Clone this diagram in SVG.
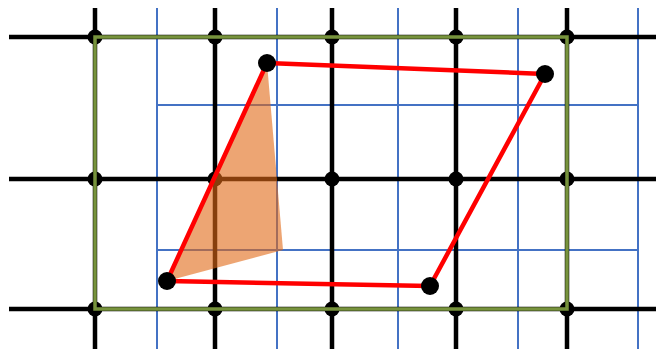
<svg xmlns="http://www.w3.org/2000/svg" width="656" height="349" viewBox="0 0 656 349">
<style>
.blk{stroke:#000;stroke-width:4.5;fill:none}
.blu{stroke:#4472c4;stroke-width:2;fill:none}
.grn{stroke:#77933c;stroke-width:3.5;fill:none}
.edge{stroke:#ff0000;stroke-width:4.5;fill:none;stroke-linecap:round}
.jd{fill:#000}
.vx{fill:#000}
</style>
<rect width="656" height="349" fill="#fff"/>
<g id="blue-grid" class="blu">
<line x1="157" y1="8" x2="157" y2="349"/>
<line x1="277" y1="8" x2="277" y2="349"/>
<line x1="398" y1="8" x2="398" y2="349"/>
<line x1="518" y1="8" x2="518" y2="349"/>
<line x1="638" y1="8" x2="638" y2="349"/>
<line x1="157" y1="105" x2="638" y2="105"/>
<line x1="157" y1="250" x2="638" y2="250"/>
</g>
<g id="black-grid" class="blk">
<line x1="95" y1="8" x2="95" y2="349"/>
<line x1="215" y1="8" x2="215" y2="349"/>
<line x1="332" y1="8" x2="332" y2="349"/>
<line x1="456" y1="8" x2="456" y2="349"/>
<line x1="567" y1="8" x2="567" y2="349"/>
<line x1="9" y1="37" x2="656" y2="37"/>
<line x1="9" y1="179" x2="656" y2="179"/>
<line x1="9" y1="309" x2="656" y2="309"/>
</g>
<g id="joints" class="jd">
<circle cx="95" cy="37" r="7.5"/><circle cx="215" cy="37" r="7.5"/><circle cx="332" cy="37" r="7.5"/><circle cx="456" cy="37" r="7.5"/><circle cx="567" cy="37" r="7.5"/>
<circle cx="95" cy="179" r="7.5"/><circle cx="215" cy="179" r="7.5"/><circle cx="332" cy="179" r="7.5"/><circle cx="456" cy="179" r="7.5"/><circle cx="567" cy="179" r="7.5"/>
<circle cx="95" cy="309" r="7.5"/><circle cx="215" cy="309" r="7.5"/><circle cx="332" cy="309" r="7.5"/><circle cx="456" cy="309" r="7.5"/><circle cx="567" cy="309" r="7.5"/>
</g>
<g id="green-frame">
<rect class="grn" x="95" y="37" width="472" height="272"/>
</g>
<g id="triangle">
<polygon points="267,63 283,250 167,281" fill="#e16916" fill-opacity="0.6"/>
</g>
<g id="connectors">
<line class="edge" x1="267" y1="63" x2="545" y2="74"/>
<line class="edge" x1="545" y1="74" x2="430" y2="286"/>
<line class="edge" x1="430" y1="286" x2="167" y2="281"/>
<line class="edge" x1="167" y1="281" x2="267" y2="63"/>
</g>
<g id="vertex-a"><circle class="vx" cx="267" cy="63" r="9"/></g>
<g id="vertex-b"><circle class="vx" cx="545" cy="74" r="9"/></g>
<g id="vertex-c"><circle class="vx" cx="430" cy="286" r="9"/></g>
<g id="vertex-d"><circle class="vx" cx="167" cy="281" r="9"/></g>
</svg>
